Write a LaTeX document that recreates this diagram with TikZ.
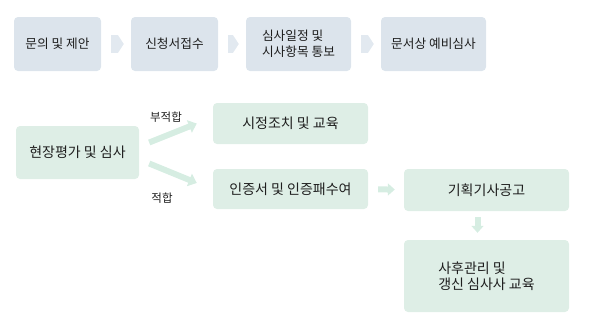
\documentclass[tikz,border=0pt]{standalone}
\usepackage{fontspec}
\setmainfont{Noto Sans CJK KR}
\usetikzlibrary{arrows.meta}
\definecolor{bluebox}{HTML}{DCE4EC}
\definecolor{bluearrow}{HTML}{E2E9F0}
\definecolor{greenbox}{HTML}{DEEEE6}
\definecolor{greenarrow}{HTML}{D6EDE2}
\definecolor{inktext}{HTML}{1E1E1E}

\begin{document}
\begin{tikzpicture}[x=1pt,y=-1pt,
    topbox/.style={fill=bluebox, rounded corners=4pt, inner sep=0pt, text=inktext,
      font=\fontsize{12.7}{16}\selectfont, align=left},
    lowbox/.style={fill=greenbox, rounded corners=4pt, inner sep=0pt, text=inktext,
      font=\fontsize{14}{16}\selectfont, align=left},
    chevron/.style={draw=bluearrow, line width=18pt, -{Triangle[length=6pt,width=18pt]},
      shorten <=10pt, shorten >=7pt},
    fatarrow/.style={draw=greenarrow, line width=6pt, -{Triangle[length=8pt,width=13pt]}},
    tag/.style={text=inktext, font=\fontsize{11.5}{12}\selectfont}]
    \useasboundingbox (0,0) rectangle (612,314);

    % Top row: application steps
    \node[topbox, minimum width=87pt, minimum height=54pt] (ask) at (57.5,44) {문의 및 제안};
    \node[topbox, minimum width=87pt, minimum height=54pt] (recv) at (174.5,44) {신청서접수};
    \node[topbox, minimum width=105pt, minimum height=54pt] (plan) at (298.5,44) {심사일정 및\\시사항목 통보};
    \node[topbox, minimum width=105pt, minimum height=54pt] (docs) at (433.5,44) {문서상 예비심사};

    \draw[chevron] (ask) -- (recv);
    \draw[chevron] (recv) -- (plan);
    \draw[chevron] (plan) -- (docs);

    % Bottom part: on-site evaluation and results
    \node[lowbox, minimum width=123pt, minimum height=53pt] (eval) at (77.5,152.5) {현장평가 및 심사};
    \node[lowbox, minimum width=155pt, minimum height=41pt] (fix) at (290.5,123.5) {시정조치 및 교육};
    \node[lowbox, minimum width=155pt, minimum height=40pt] (cert) at (290.5,189) {인증서 및 인증패수여};
    \node[lowbox, minimum width=165pt, minimum height=42pt] (pub) at (486.5,190) {기획기사공고};
    \node[lowbox, minimum width=165pt, minimum height=72pt] (after) at (486.5,276) {사후관리 및\\갱신 심사사 교육};

    \draw[fatarrow] ([shift={(10,-10)}]eval.east) -- ([shift={(-16,0)}]fix.west);
    \draw[fatarrow] ([shift={(10,11)}]eval.east) -- ([shift={(-16,-6)}]cert.west);
    \node[tag] (nofit) at (166,117) {부적합};
    \node[tag] (fit) at (162,198) {적합};

    \draw[fatarrow, -{Triangle[length=7pt,width=12pt]}, shorten <=10pt, shorten >=9pt] (cert) -- (pub);
    \draw[fatarrow, -{Triangle[length=7pt,width=12pt]}, shorten <=6pt, shorten >=7pt]
      ([xshift=-9pt]pub.south) -- ([xshift=-9pt]after.north);

\end{tikzpicture}
\end{document}
